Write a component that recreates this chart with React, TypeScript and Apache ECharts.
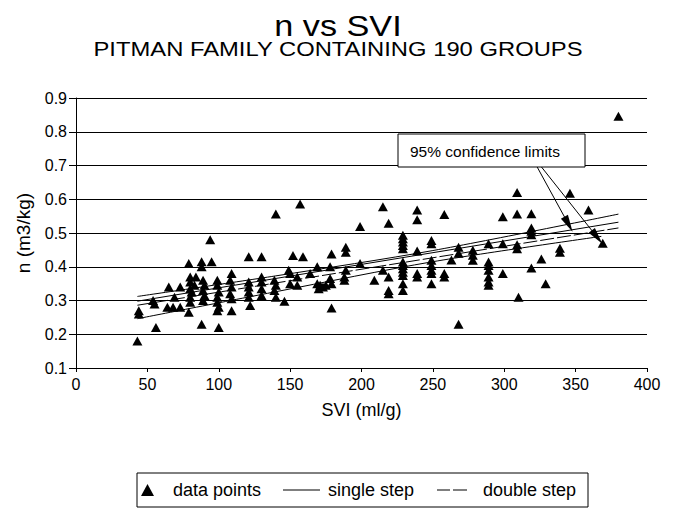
import React, { useEffect, useRef } from "react";
import * as echarts from "echarts";

// ---- data ----
const sviValues = [
  43, 44, 44, 54, 55, 56, 64, 65, 68, 69, 73, 73, 79, 79, 80, 80, 80, 81, 80, 80, 84, 83,
  88, 88, 95, 94, 88, 89, 90, 89, 90, 89, 99, 99, 100, 99, 99, 100, 99, 100,
  109, 108, 109, 108, 109, 109,
  121, 130, 121, 121, 121, 121, 122, 130, 130, 130, 130,
  139, 140, 139, 140, 140, 146, 149, 150, 150, 152, 159, 155, 155, 157, 164,
  169, 169, 170, 171, 173, 175, 178, 178, 179, 179, 179,
  189, 189, 188, 188, 189, 199, 199, 209, 215, 215, 219, 219, 219, 219,
  229, 229, 229, 229, 229, 229, 229, 229, 229, 229, 229, 229,
  239, 239, 239, 239, 239,
  249, 249, 249, 249, 249, 249, 249,
  258, 258, 258, 263, 268, 268, 268, 278, 278, 278,
  289, 289, 289, 289, 289, 289, 289, 299, 299, 299,
  309, 309, 309, 309, 310, 319, 319, 319, 319, 319,
  326, 329, 339, 339, 346, 359, 369, 380,
];
const nValues = [
  0.18, 0.27, 0.26, 0.3, 0.29, 0.22, 0.28, 0.34, 0.28, 0.31, 0.34, 0.28, 0.41, 0.265, 0.37, 0.355, 0.335, 0.325, 0.31, 0.295, 0.37, 0.345,
  0.415, 0.4, 0.415, 0.48, 0.23, 0.36, 0.345, 0.33, 0.315, 0.3, 0.36, 0.345, 0.325, 0.31, 0.295, 0.28, 0.27, 0.22,
  0.38, 0.36, 0.34, 0.32, 0.305, 0.27,
  0.43, 0.43, 0.355, 0.34, 0.325, 0.31, 0.285, 0.37, 0.355, 0.335, 0.315,
  0.36, 0.345, 0.33, 0.31, 0.556, 0.298, 0.39, 0.38, 0.35, 0.433, 0.43, 0.37, 0.345, 0.586, 0.38,
  0.4, 0.35, 0.335, 0.345, 0.34, 0.345, 0.4, 0.365, 0.35, 0.438, 0.278,
  0.458, 0.443, 0.37, 0.36, 0.39, 0.41, 0.519, 0.36, 0.39, 0.578, 0.37, 0.33, 0.32, 0.529,
  0.493, 0.483, 0.473, 0.463, 0.453, 0.414, 0.404, 0.394, 0.384, 0.374, 0.35, 0.33,
  0.568, 0.539, 0.447, 0.38, 0.37,
  0.478, 0.468, 0.419, 0.404, 0.39, 0.38, 0.35,
  0.555, 0.38, 0.37, 0.42, 0.458, 0.44, 0.23, 0.449, 0.434, 0.419,
  0.468, 0.414, 0.404, 0.39, 0.37, 0.355, 0.345, 0.468, 0.548, 0.38,
  0.62, 0.556, 0.453, 0.465, 0.31, 0.557, 0.515, 0.505, 0.495, 0.396,
  0.423, 0.35, 0.455, 0.443, 0.618, 0.568, 0.47, 0.846,
];

const singleStep: [number, number][] = [[43, 0.298], [380, 0.532]];
const doubleStep: [number, number][] = [[43, 0.286], [380, 0.515]];
const upperLimit: [number, number][] = [[43, 0.312], [140, 0.373], [250, 0.448], [380, 0.556]];
const lowerLimit: [number, number][] = [[43, 0.246], [140, 0.326], [250, 0.415], [368, 0.49]];

// annotation arrows (from the label box to the confidence limit lines), in data units
const arrowStarts: [number, number][] = [[323, 0.696], [326, 0.696]];
const arrowEnds: [number, number][] = [[345, 0.526], [365, 0.488]];

const xTicks = { min: 0, max: 400, interval: 50 };
const yTicks = { min: 0.1, max: 0.9, interval: 0.1 };

const FONT = "'Liberation Sans', Arial, Helvetica, sans-serif";

export default function App() {
  const ref = useRef<HTMLDivElement>(null);

  useEffect(() => {
    if (!ref.current) return;
    const chart = echarts.init(ref.current, null, { renderer: "svg" });
    const points = sviValues.map((x, i) => [x, nValues[i]]);
    const black = "#000";
    const legendBase = {
      top: 481,
      orient: "horizontal",
      padding: 0,
      textStyle: { fontSize: 18, color: black, fontFamily: FONT },
      selectedMode: false,
    };

    const option: any = {
      animation: false,
      backgroundColor: "#fff",
      textStyle: { fontFamily: FONT, color: black },
      grid: { left: 76, right: 29, top: 98, bottom: 143, containLabel: false },
      xAxis: {
        type: "value",
        min: xTicks.min,
        max: xTicks.max,
        interval: xTicks.interval,
        name: "SVI (ml/g)",
        nameLocation: "middle",
        nameGap: 33,
        nameTextStyle: { fontSize: 18, color: black, fontFamily: FONT },
        axisLine: { show: true, onZero: false, lineStyle: { color: black, width: 1 } },
        axisTick: { show: true, inside: false, length: 4, lineStyle: { color: black } },
        axisLabel: { fontSize: 16, color: black, margin: 8, fontFamily: FONT },
        splitLine: { show: false },
      },
      yAxis: {
        type: "value",
        min: yTicks.min,
        max: yTicks.max,
        interval: yTicks.interval,
        name: "n (m3/kg)",
        nameLocation: "middle",
        nameGap: 43,
        nameTextStyle: { fontSize: 19, color: black, fontFamily: FONT },
        axisLine: { show: true, onZero: false, lineStyle: { color: black, width: 1 } },
        axisTick: { show: true, inside: false, length: 7, lineStyle: { color: black } },
        axisLabel: {
          fontSize: 16,
          color: black,
          margin: 9,
          fontFamily: FONT,
          formatter: (v: number) => v.toFixed(1),
        },
        splitLine: { show: true, lineStyle: { color: black, width: 1.2 } },
      },
      legend: [
        {
          ...legendBase,
          left: 141,
          itemWidth: 13,
          itemHeight: 12,
          data: [{ name: "data points", icon: "triangle" }],
          textStyle: { ...legendBase.textStyle, padding: [0, 0, 0, 14] },
        },
        {
          ...legendBase,
          left: 283,
          itemWidth: 37,
          itemHeight: 1.2,
          data: [{ name: "single step", icon: "path://M0,0H37V1H0Z" }],
          textStyle: { ...legendBase.textStyle, padding: [0, 0, 0, 3] },
        },
        {
          ...legendBase,
          left: 437,
          itemWidth: 30,
          itemHeight: 1.2,
          data: [{ name: "double step", icon: "path://M0,0H13V1H0Z M16,0H30V1H16Z" }],
          textStyle: { ...legendBase.textStyle, padding: [0, 0, 0, 11] },
        },
      ],
      graphic: [
        {
          type: "text",
          x: 338,
          y: 26,
          scaleX: 1.18,
          style: {
            text: "n vs SVI",
            fontSize: 29,
            fontFamily: FONT,
            fill: black,
            textAlign: "center",
            verticalAlign: "middle",
          },
          silent: true,
        },
        {
          type: "text",
          x: 338,
          y: 49,
          scaleX: 1.22,
          style: {
            text: "PITMAN FAMILY CONTAINING 190 GROUPS",
            fontSize: 19.5,
            fontFamily: FONT,
            fill: black,
            textAlign: "center",
            verticalAlign: "middle",
          },
          silent: true,
        },
        {
          type: "rect",
          shape: { x: 137, y: 473, width: 451, height: 34 },
          style: { fill: "none", stroke: black, lineWidth: 1 },
          silent: true,
        },
        {
          type: "rect",
          shape: { x: 398, y: 134, width: 187, height: 33 },
          style: { fill: "#fff", stroke: black, lineWidth: 1 },
          z: 100,
          silent: true,
        },
        {
          type: "text",
          x: 410,
          y: 151,
          z: 101,
          style: {
            text: "95% confidence limits",
            fontSize: 15.5,
            fontFamily: FONT,
            fill: black,
            verticalAlign: "middle",
            textAlign: "left",
          },
          silent: true,
        },
      ],
      series: [
        {
          name: "data points",
          type: "scatter",
          data: points,
          symbol: "triangle",
          symbolSize: [10, 9],
          itemStyle: { color: black, opacity: 1 },
          z: 3,
        },
        {
          name: "single step",
          type: "line",
          data: singleStep,
          symbol: "none",
          lineStyle: { color: black, width: 1 },
          itemStyle: { color: black },
          z: 4,
        },
        {
          name: "double step",
          type: "line",
          data: doubleStep,
          symbol: "none",
          lineStyle: { color: black, width: 1, type: [14, 3] },
          itemStyle: { color: black },
          z: 4,
        },
        {
          name: "upper 95% limit",
          type: "line",
          data: upperLimit,
          symbol: "none",
          smooth: 0.3,
          lineStyle: { color: black, width: 1 },
          z: 4,
        },
        {
          name: "lower 95% limit",
          type: "line",
          data: lowerLimit,
          symbol: "none",
          smooth: 0.3,
          lineStyle: { color: black, width: 1 },
          z: 4,
          markLine: {
            silent: true,
            symbol: ["none", "triangle"],
            symbolSize: [8, 17],
            label: { show: false },
            itemStyle: { color: black },
            lineStyle: { color: black, width: 1, type: "solid" },
            data: arrowStarts.map((s, i) => [{ coord: s }, { coord: arrowEnds[i] }]),
          },
        },
      ],
    };

    chart.setOption(option);
    return () => chart.dispose();
  }, []);

  return (
    <div
      ref={ref}
      style={{ position: "fixed", left: 0, top: 0, width: 676, height: 511, background: "#fff" }}
    />
  );
}
